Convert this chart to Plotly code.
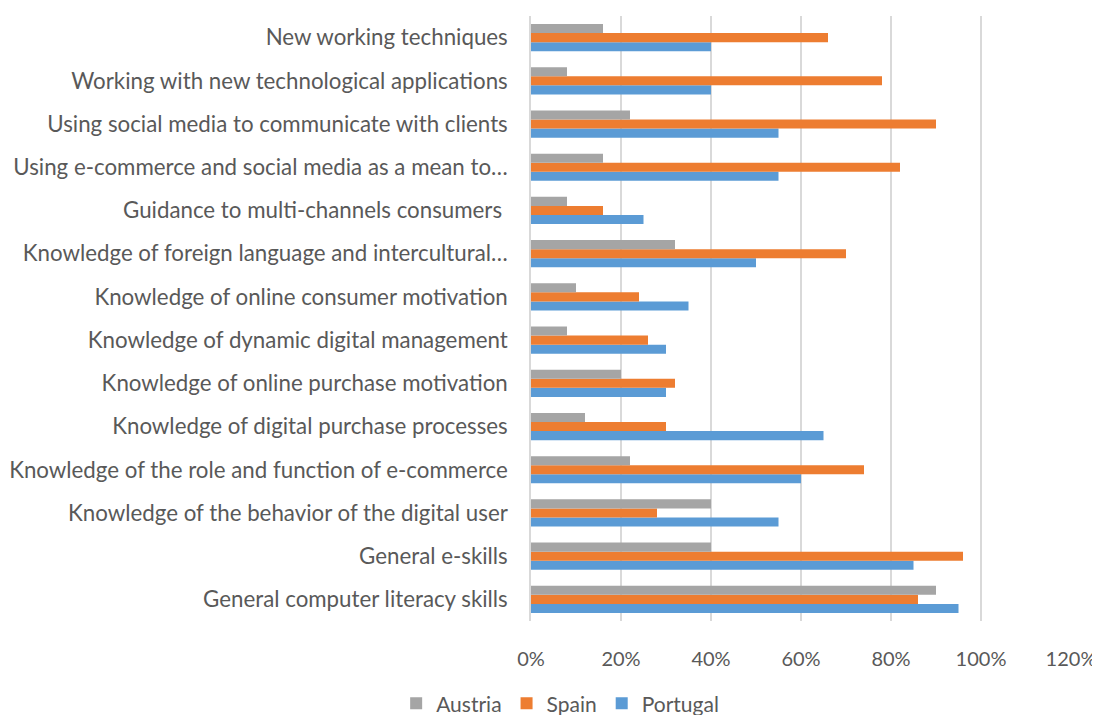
import plotly.graph_objects as go

# categories, bottom to top (plotly draws the first category at the bottom)
skills = [
    "General computer literacy skills",
    "General e-skills",
    "Knowledge of the behavior of the digital user",
    "Knowledge of the role and function of e-commerce",
    "Knowledge of digital purchase processes",
    "Knowledge of online purchase motivation",
    "Knowledge of dynamic digital management",
    "Knowledge of online consumer motivation",
    "Knowledge of foreign language and intercultural…",
    "Guidance to multi-channels consumers\u00a0",
    "Using e-commerce and social media as a mean to…",
    "Using social media to communicate with clients",
    "Working with new technological applications",
    "New working techniques",
]

portugal = [0.95, 0.85, 0.55, 0.60, 0.65, 0.30, 0.30, 0.35, 0.50, 0.25, 0.55, 0.55, 0.40, 0.40]
spain = [0.86, 0.96, 0.28, 0.74, 0.30, 0.32, 0.26, 0.24, 0.70, 0.16, 0.82, 0.90, 0.78, 0.66]
austria = [0.90, 0.40, 0.40, 0.22, 0.12, 0.20, 0.08, 0.10, 0.32, 0.08, 0.16, 0.22, 0.08, 0.16]

text_col = "#595959"
font_fam = "Lato, Open Sans, sans-serif"

fig = go.Figure()
# trace order: first trace sits lowest in each group
fig.add_trace(go.Bar(y=skills, x=portugal, name="Portugal", orientation="h",
                     marker=dict(color="#5B9BD5", line=dict(width=0))))
fig.add_trace(go.Bar(y=skills, x=spain, name="Spain", orientation="h",
                     marker=dict(color="#ED7D31", line=dict(width=0))))
fig.add_trace(go.Bar(y=skills, x=austria, name="Austria", orientation="h",
                     marker=dict(color="#A5A5A5", line=dict(width=0))))

# page body adds an 8px offset, so the figure is a bit smaller than the window
fig.update_layout(
    width=1092,
    height=707,
    barmode="group",
    bargap=0.37,
    bargroupgap=0,
    plot_bgcolor="white",
    paper_bgcolor="white",
    margin=dict(l=523, r=29, t=8, b=94),
    font=dict(family=font_fam, color=text_col, size=22),
    showlegend=True,
    legend=dict(
        orientation="h",
        traceorder="reversed",
        x=0.054,
        xanchor="center",
        yref="container",
        y=0.016,
        yanchor="middle",
        font=dict(size=21, color=text_col),
        itemwidth=30,
    ),
)

fig.update_xaxes(
    range=[0, 1.2],
    tickvals=[0, 0.2, 0.4, 0.6, 0.8, 1.0, 1.2],
    tickformat=".0%",
    showgrid=True,
    gridcolor="#D9D9D9",
    gridwidth=1.5,
    zeroline=False,
    showline=False,
    ticks="",
    ticklabelstandoff=24,
    automargin=False,
    tickfont=dict(size=20, color=text_col),
)

fig.update_yaxes(
    showgrid=False,
    zeroline=False,
    showline=True,
    linecolor="#D9D9D9",
    linewidth=1.5,
    ticks="",
    ticklabelstandoff=17,
    automargin=False,
    tickfont=dict(size=22.3, color=text_col),
)

fig.write_html("out.html")
